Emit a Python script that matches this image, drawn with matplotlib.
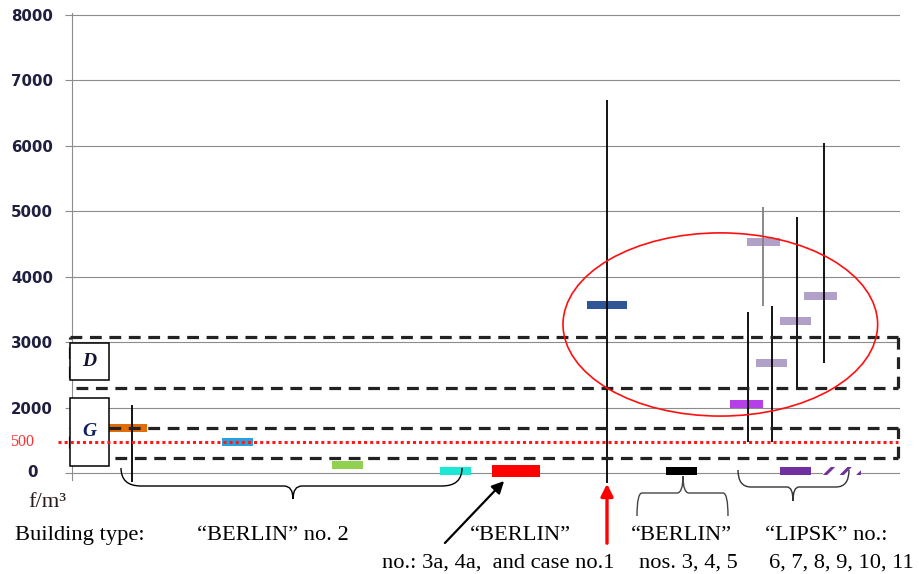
import matplotlib.pyplot as plt
from matplotlib.patches import Ellipse, Rectangle, FancyArrowPatch, PathPatch
from matplotlib.path import Path
from matplotlib.transforms import Affine2D, blended_transform_factory

plt.rcParams['lines.scale_dashes'] = False
plt.rcParams['hatch.linewidth'] = 2.2

# mean fibre concentration per building (chart units, bottom gridline = "0")
means = [1690, 1475, 1120, 1030, 1030, 3570, 1030, 2055, 4530, 2680, 3325, 3705, 1030, 1030]
bar_colors = ['#E36C0A', '#22A3E2', '#92D050', '#1DE8D4', '#FF0000', '#2F5597', '#000000',
              '#B540E8', '#B1A0C7', '#B1A0C7', '#B1A0C7', '#B1A0C7', '#7030A0', '#7030A0']
hatched = [False] * 13 + [True]

# min / max of single readings
spread_lo = [860, 850, 1475, 3550, 1475, 2300, 2680]
spread_hi = [2040, 6700, 3460, 5065, 3550, 4915, 6045]
spread_colors = ['k', 'k', 'k', '#808080', 'k', 'k', 'k']

# class limits D and G, threshold line
d_band = (2300, 3080)
g_band = (1230, 1690)
threshold = 1475

ytick_vals = [2000, 3000, 4000, 5000, 6000, 7000, 8000]
ytick_labels = ['2000', '3000', '4000', '5000', '6000', '7000', '8000']

# horizontal layout (0-100 across the plot)
bar_x = [6.7, 20.0, 33.3, 46.3, 53.6, 64.6, 73.6, 81.5, 83.5, 84.5, 87.4, 90.4, 87.4, 93.0]
bar_w = [4.7, 3.7, 3.7, 3.7, 5.8, 4.8, 3.7, 4.0, 4.0, 3.7, 3.7, 4.0, 3.7, 4.6]
bar_h = [120, 120, 120, 120, 180, 120, 120, 130, 120, 120, 120, 120, 120, 120]
spread_x = [7.25, 64.6, 81.6, 83.45, 84.55, 87.55, 90.8]

fig = plt.figure(figsize=(9.19, 5.74), dpi=100)
ax = fig.add_axes([72 / 919, 94 / 574, 828 / 919, 467 / 574])
ax.set_xlim(0, 100)
ax.set_ylim(893, 8031)

# pixel transform for annotations outside the axes
px = Affine2D().scale(1 / 919, -1 / 574).translate(0, 1) + fig.transFigure

for s in ['top', 'right', 'bottom']:
    ax.spines[s].set_visible(False)
ax.spines['left'].set_color('#8c8c8c')
ax.set_xticks([])
ax.set_yticks([1000] + ytick_vals)
ax.set_yticklabels([''] + ytick_labels, fontweight='bold', fontsize=10.8, color='#1f1f3f')
ax.tick_params(axis='y', length=5, width=0.8, color='#8c8c8c', pad=8.5)
ax.grid(axis='y', color='#8c8c8c', linewidth=0.8, zorder=0)
ax.set_axisbelow(True)

ytr = blended_transform_factory(px, ax.transData)
ax.text(32, 1000, '0', transform=ytr, ha='center', va='center', fontweight='bold',
        fontsize=10.8, color='#1f1f3f', clip_on=False)
ax.text(22, threshold, '500', transform=ytr, ha='center', va='center',
        family='Liberation Serif', fontsize=11.5, color='#ff3030', clip_on=False)

# sample bars
for x, w, h, m, c, hat in zip(bar_x, bar_w, bar_h, means, bar_colors, hatched):
    if hat:
        ax.bar(x, h, bottom=m - h / 2, width=w, facecolor='white', edgecolor=c,
               linewidth=0, hatch='//', zorder=2)
    else:
        ax.bar(x, h, bottom=m - h / 2, width=w, color=c, linewidth=0, zorder=2)

# ranges
ax.vlines(spread_x, spread_lo, spread_hi, colors=spread_colors, linewidth=1.3,
          zorder=3, clip_on=False)

# dashed class bands
dash = dict(color='#222222', linewidth=2.3, linestyle=(0, (8.5, 5.5)), zorder=4, clip_on=False)
for lo, hi in [d_band, g_band]:
    ax.plot([-0.3, 99.8], [hi, hi], **dash)
    ax.plot([0.5, 99.8], [lo, lo], **dash)
    ax.plot([99.8, 99.8], [lo, hi], **dash)
    ax.plot([-0.3, -0.3], [lo + 150, hi], **dash)

# D / G boxes
for (y0, y1), lab, col in [((2420, 2990), 'D', '#101030'), ((1105, 2150), 'G', '#102060')]:
    ax.add_patch(Rectangle((-0.25, y0), 4.75, y1 - y0, facecolor='white', edgecolor='black',
                           linewidth=1.1, zorder=5, clip_on=False))
    ax.text(2.1, (y0 + y1) / 2, lab, ha='center', va='center', family='Liberation Serif',
            style='italic', fontweight='bold', fontsize=14, color=col, zorder=6)

# threshold
ax.plot([-1.7, 99.8], [threshold, threshold], color='#ff1a1a', linewidth=2.2,
        linestyle=(0, (2.2, 2.2)), zorder=7, clip_on=False)

# highlighted group
ax.add_patch(Ellipse((78.3, 3270), 38.0, 2800, fill=False, edgecolor='#ff1010',
                     linewidth=1.2, zorder=8))

# braces below the plot
def brace(x0, x1, y_end, y_mid, tip_x, tip_y, r_end, r_tip, color):
    verts = [(x0, y_end), (x0, y_mid), (x0 + r_end, y_mid),
             (tip_x - r_tip, y_mid), (tip_x, y_mid), (tip_x, tip_y),
             (tip_x, y_mid), (tip_x + r_tip, y_mid),
             (x1 - r_end, y_mid), (x1, y_mid), (x1, y_end)]
    codes = [Path.MOVETO, Path.CURVE3, Path.CURVE3, Path.LINETO, Path.CURVE3, Path.CURVE3,
             Path.CURVE3, Path.CURVE3, Path.LINETO, Path.CURVE3, Path.CURVE3]
    fig.add_artist(PathPatch(Path(verts, codes), transform=px, fill=False,
                             edgecolor=color, linewidth=1.0))

brace(121, 462, 468, 486, 293, 499, 20, 9, 'black')
brace(637, 728, 516, 493, 683, 476, 5, 6, '#444444')
brace(738, 849, 470, 487, 793, 501, 13, 6, '#333333')

# arrows
fig.add_artist(FancyArrowPatch((443, 545), (506, 479), transform=px, arrowstyle='-|>',
                               mutation_scale=18, color='black', linewidth=1.6))
fig.add_artist(FancyArrowPatch((607, 546), (607, 481), transform=px, arrowstyle='-|>',
                               mutation_scale=18, color='#ff0000', linewidth=2.4))

serif = dict(family='Liberation Serif', fontsize=16.2, color='black', transform=px, va='baseline')
fig.text(28, 507, 'f/m³', **dict(serif, color='#2a1a1a'))
fig.text(15, 540, 'Building type:', **serif)
fig.text(197, 540, '“BERLIN” no. 2', **serif)
fig.text(470, 540, '“BERLIN”', **serif)
fig.text(631, 540, '“BERLIN”', **serif)
fig.text(765, 540, '“LIPSK” no.:', **serif)
fig.text(382, 568, 'no.: 3a, 4a,  and case no.1', **serif)
fig.text(639, 568, 'nos. 3, 4, 5', **serif)
fig.text(769, 568, '6, 7, 8, 9, 10, 11', **serif)

fig.savefig('out.png', dpi=100)
